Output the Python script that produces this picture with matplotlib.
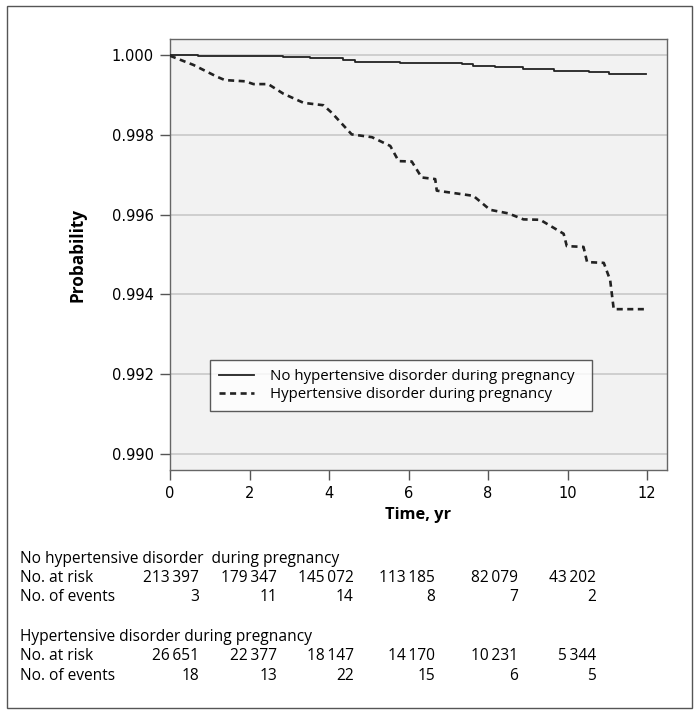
import matplotlib
matplotlib.use("Agg")
import matplotlib.pyplot as plt
import matplotlib.transforms as mtransforms
from matplotlib.patches import Rectangle

# Kaplan-Meier curves
t_none = [0, 0.7, 2.85, 3.52, 4.36, 4.66, 5.79, 7.34, 7.63, 8.18, 8.89, 9.65, 10.53, 11.03, 11.98]
p_none = [1.0000, 0.99998, 0.99996, 0.99992, 0.99988, 0.99983, 0.99979, 0.99977,
          0.99973, 0.99970, 0.99965, 0.99961, 0.99957, 0.99952, 0.99952]

t_hyp = [0, 0.59, 1.17, 1.38, 1.89, 2.1, 2.47, 2.85, 3.36, 3.86, 4.07, 4.57, 5.08, 5.54,
         5.75, 6.08, 6.33, 6.67, 6.71, 7.63, 8.05, 8.51, 8.89, 9.31, 9.9, 9.98, 10.4,
         10.49, 10.91, 11.07, 11.16, 11.98]
p_hyp = [0.99998, 0.99975, 0.99946, 0.99937, 0.99934, 0.99927, 0.99927, 0.99903, 0.99880,
         0.99874, 0.99855, 0.99801, 0.99794, 0.99772, 0.99734, 0.99733, 0.99693, 0.99689,
         0.99660, 0.99647, 0.99612, 0.99603, 0.99588, 0.99587, 0.99552, 0.99521, 0.99519,
         0.99481, 0.99479, 0.99436, 0.99363, 0.99363]

xticks = [0, 2, 4, 6, 8, 10, 12]
yticks = [0.990, 0.992, 0.994, 0.996, 0.998, 1.000]

label_none = "No hypertensive disorder during pregnancy"
label_hyp = "Hypertensive disorder during pregnancy"

risk_none = ["213\u2009397", "179\u2009347", "145\u2009072", "113\u2009185", "82\u2009079", "43\u2009202"]
events_none = ["3", "11", "14", "8", "7", "2"]
risk_hyp = ["26\u2009651", "22\u2009377", "18\u2009147", "14\u2009170", "10\u2009231", "5\u2009344"]
events_hyp = ["18", "13", "22", "15", "6", "5"]
# right edge of each table column, in years
col_right = [0.73, 2.70, 4.62, 6.67, 8.75, 10.72]

W, H = 699, 716
fig = plt.figure(figsize=(W / 100, H / 100), dpi=100)
ax = fig.add_axes([170 / W, 1 - 470 / H, 497 / W, 431 / H])
ax.set_facecolor("#f2f2f2")

for y in yticks:
    ax.axhline(y, color="#c8c8c8", lw=1.2, zorder=1)

ax.step(t_none, p_none, where="post", color="#222222", lw=1.3, zorder=3,
        label=label_none)
ax.plot(t_hyp, p_hyp, color="#222222", lw=1.9, ls=(0, (2.3, 1.7)), zorder=3,
        label=label_hyp)

ax.set_xlim(0, 12.5)
ax.set_ylim(0.9896, 1.0004)
ax.set_xticks(xticks)
ax.set_yticks(yticks)
ax.set_yticklabels(["%.3f" % v for v in yticks])
ax.tick_params(length=7.5, width=1, color="#555555", labelsize=10.5, pad=4)
for s in ax.spines.values():
    s.set_color("#666666")
    s.set_linewidth(1)

ax.set_xlabel("Time, yr", fontsize=11.8, fontweight="bold", labelpad=4,
              family="Open Sans")
ax.set_ylabel("Probability", fontsize=12.3, fontweight="bold", labelpad=18,
              family="Open Sans")

leg = ax.legend(loc="lower left", bbox_to_anchor=(0.0805, 0.137, 0.769, 0.128),
                mode="expand", borderaxespad=0, frameon=True, fancybox=False,
                handlelength=2.3, handletextpad=1.1,
                prop={"family": "Open Sans", "size": 10.8}, borderpad=0.6,
                labelspacing=0.2)
leg.get_frame().set_edgecolor("#333333")
leg.get_frame().set_linewidth(1)

# number-at-risk table
trans = mtransforms.blended_transform_factory(ax.transData, fig.transFigure)
tfont = {"family": "Open Sans", "size": 11.2}

def row(y_px, text, values=None):
    fig.text(20 / W, 1 - y_px / H, text, ha="left", va="center", **tfont)
    if values is not None:
        for x, v in zip(col_right, values):
            ax.text(x, 1 - y_px / H, v, transform=trans, ha="right",
                    va="center", clip_on=False, **tfont)

row(559, "No hypertensive disorder  during pregnancy")
row(578, "No. at risk", risk_none)
row(597, "No. of events", events_none)
row(637, label_hyp)
row(656, "No. at risk", risk_hyp)
row(676, "No. of events", events_hyp)

fig.patches.append(Rectangle((7 / W, 1 - 708 / H), 685 / W, 702 / H,
                             transform=fig.transFigure, fill=False,
                             edgecolor="#555555", lw=1))

fig.savefig("out.png", dpi=100)
